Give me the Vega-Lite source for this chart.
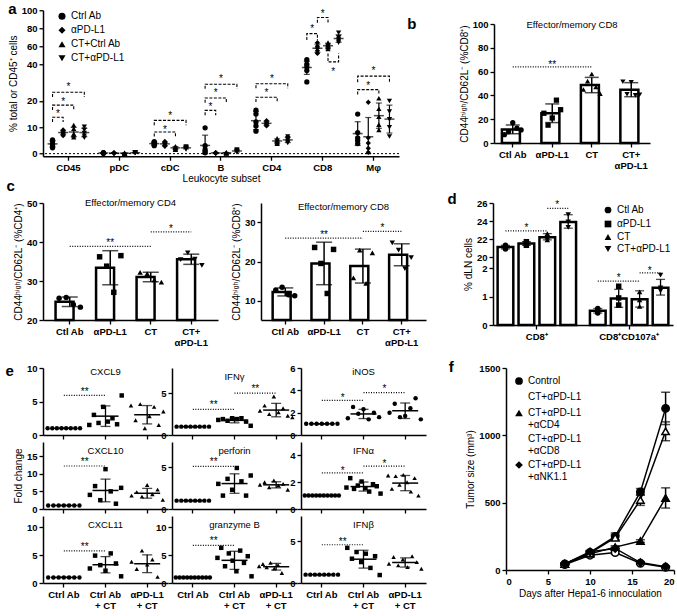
{
"$schema":"https://vega.github.io/schema/vega-lite/v6.json",
"padding":{"left":5,"top":2,"right":2,"bottom":2},
"config":{"font":"Liberation Sans","view":{"stroke":null},
"axis":{"grid":false,"domainColor":"black","domainWidth":1.5,"tickColor":"black","tickWidth":1.3,"tickSize":4,"labelColor":"black","labelFontSize":9.5,"labelFontWeight":"bold","labelOverlap":false,"titleFontSize":10,"titleFontWeight":"normal","titleColor":"black","labelPadding":2,"titlePadding":3},
"axisX":{"labelAngle":0},
"legend":{"labelFontSize":10,"labelColor":"black"},
"title":{"color":"black"},
"text":{"color":"black"}},
"datasets":{
"a_pts":[
{"s":"CD45","k":1,"g":"Ctrl Ab","v":2.2},{"s":"CD45","k":1,"g":"Ctrl Ab","v":3},{"s":"CD45","k":1,"g":"Ctrl Ab","v":3.5},{"s":"CD45","k":1,"g":"Ctrl Ab","v":4.5},{"s":"CD45","k":1,"g":"Ctrl Ab","v":5.2},
{"s":"CD45","k":2,"g":"αPD-L1","v":6.8},{"s":"CD45","k":2,"g":"αPD-L1","v":7.5},{"s":"CD45","k":2,"g":"αPD-L1","v":8},{"s":"CD45","k":2,"g":"αPD-L1","v":8.5},{"s":"CD45","k":2,"g":"αPD-L1","v":9},
{"s":"CD45","k":3,"g":"CT+Ctrl Ab","v":6.2},{"s":"CD45","k":3,"g":"CT+Ctrl Ab","v":7},{"s":"CD45","k":3,"g":"CT+Ctrl Ab","v":7.5},{"s":"CD45","k":3,"g":"CT+Ctrl Ab","v":9.5},{"s":"CD45","k":3,"g":"CT+Ctrl Ab","v":10.8},
{"s":"CD45","k":4,"g":"CT+αPD-L1","v":6},{"s":"CD45","k":4,"g":"CT+αPD-L1","v":6.8},{"s":"CD45","k":4,"g":"CT+αPD-L1","v":7.8},{"s":"CD45","k":4,"g":"CT+αPD-L1","v":9},{"s":"CD45","k":4,"g":"CT+αPD-L1","v":10.2},
{"s":"pDC","k":1,"g":"Ctrl Ab","v":0.1},{"s":"pDC","k":1,"g":"Ctrl Ab","v":0.2},{"s":"pDC","k":1,"g":"Ctrl Ab","v":0.3},{"s":"pDC","k":1,"g":"Ctrl Ab","v":0.2},{"s":"pDC","k":1,"g":"Ctrl Ab","v":0.4},
{"s":"pDC","k":2,"g":"αPD-L1","v":0.1},{"s":"pDC","k":2,"g":"αPD-L1","v":0.2},{"s":"pDC","k":2,"g":"αPD-L1","v":0.3},{"s":"pDC","k":2,"g":"αPD-L1","v":0.3},{"s":"pDC","k":2,"g":"αPD-L1","v":0.2},
{"s":"pDC","k":3,"g":"CT+Ctrl Ab","v":0.05},{"s":"pDC","k":3,"g":"CT+Ctrl Ab","v":0.1},{"s":"pDC","k":3,"g":"CT+Ctrl Ab","v":0.2},{"s":"pDC","k":3,"g":"CT+Ctrl Ab","v":0.2},{"s":"pDC","k":3,"g":"CT+Ctrl Ab","v":0.3},
{"s":"pDC","k":4,"g":"CT+αPD-L1","v":0.2},{"s":"pDC","k":4,"g":"CT+αPD-L1","v":0.3},{"s":"pDC","k":4,"g":"CT+αPD-L1","v":0.4},{"s":"pDC","k":4,"g":"CT+αPD-L1","v":0.5},{"s":"pDC","k":4,"g":"CT+αPD-L1","v":0.3},
{"s":"cDC","k":1,"g":"Ctrl Ab","v":3},{"s":"cDC","k":1,"g":"Ctrl Ab","v":3.5},{"s":"cDC","k":1,"g":"Ctrl Ab","v":4},{"s":"cDC","k":1,"g":"Ctrl Ab","v":4.2},{"s":"cDC","k":1,"g":"Ctrl Ab","v":4.5},
{"s":"cDC","k":2,"g":"αPD-L1","v":2.8},{"s":"cDC","k":2,"g":"αPD-L1","v":3.2},{"s":"cDC","k":2,"g":"αPD-L1","v":3.8},{"s":"cDC","k":2,"g":"αPD-L1","v":4.2},{"s":"cDC","k":2,"g":"αPD-L1","v":4.6},
{"s":"cDC","k":3,"g":"CT+Ctrl Ab","v":1.5},{"s":"cDC","k":3,"g":"CT+Ctrl Ab","v":1.8},{"s":"cDC","k":3,"g":"CT+Ctrl Ab","v":2.2},{"s":"cDC","k":3,"g":"CT+Ctrl Ab","v":2.5},{"s":"cDC","k":3,"g":"CT+Ctrl Ab","v":2.8},
{"s":"cDC","k":4,"g":"CT+αPD-L1","v":1.6},{"s":"cDC","k":4,"g":"CT+αPD-L1","v":1.9},{"s":"cDC","k":4,"g":"CT+αPD-L1","v":2.2},{"s":"cDC","k":4,"g":"CT+αPD-L1","v":2.4},{"s":"cDC","k":4,"g":"CT+αPD-L1","v":2.7},
{"s":"B","k":1,"g":"Ctrl Ab","v":0.3},{"s":"B","k":1,"g":"Ctrl Ab","v":0.8},{"s":"B","k":1,"g":"Ctrl Ab","v":1.5},{"s":"B","k":1,"g":"Ctrl Ab","v":3},{"s":"B","k":1,"g":"Ctrl Ab","v":9.8},
{"s":"B","k":2,"g":"αPD-L1","v":0.1},{"s":"B","k":2,"g":"αPD-L1","v":0.2},{"s":"B","k":2,"g":"αPD-L1","v":0.3},{"s":"B","k":2,"g":"αPD-L1","v":0.4},{"s":"B","k":2,"g":"αPD-L1","v":0.3},
{"s":"B","k":3,"g":"CT+Ctrl Ab","v":0.1},{"s":"B","k":3,"g":"CT+Ctrl Ab","v":0.2},{"s":"B","k":3,"g":"CT+Ctrl Ab","v":0.3},{"s":"B","k":3,"g":"CT+Ctrl Ab","v":0.4},{"s":"B","k":3,"g":"CT+Ctrl Ab","v":0.5},
{"s":"B","k":4,"g":"CT+αPD-L1","v":0.5},{"s":"B","k":4,"g":"CT+αPD-L1","v":0.8},{"s":"B","k":4,"g":"CT+αPD-L1","v":1},{"s":"B","k":4,"g":"CT+αPD-L1","v":1.2},{"s":"B","k":4,"g":"CT+αPD-L1","v":1.5},
{"s":"CD4","k":1,"g":"Ctrl Ab","v":8.5},{"s":"CD4","k":1,"g":"Ctrl Ab","v":10.5},{"s":"CD4","k":1,"g":"Ctrl Ab","v":12},{"s":"CD4","k":1,"g":"Ctrl Ab","v":15},{"s":"CD4","k":1,"g":"Ctrl Ab","v":16.5},
{"s":"CD4","k":2,"g":"αPD-L1","v":10.5},{"s":"CD4","k":2,"g":"αPD-L1","v":11},{"s":"CD4","k":2,"g":"αPD-L1","v":11.5},{"s":"CD4","k":2,"g":"αPD-L1","v":12},{"s":"CD4","k":2,"g":"αPD-L1","v":12.5},
{"s":"CD4","k":3,"g":"CT+Ctrl Ab","v":3.8},{"s":"CD4","k":3,"g":"CT+Ctrl Ab","v":4.2},{"s":"CD4","k":3,"g":"CT+Ctrl Ab","v":4.8},{"s":"CD4","k":3,"g":"CT+Ctrl Ab","v":5.2},{"s":"CD4","k":3,"g":"CT+Ctrl Ab","v":5.8},
{"s":"CD4","k":4,"g":"CT+αPD-L1","v":4},{"s":"CD4","k":4,"g":"CT+αPD-L1","v":4.5},{"s":"CD4","k":4,"g":"CT+αPD-L1","v":5.2},{"s":"CD4","k":4,"g":"CT+αPD-L1","v":5.8},{"s":"CD4","k":4,"g":"CT+αPD-L1","v":6.5},
{"s":"CD8","k":1,"g":"Ctrl Ab","v":27},{"s":"CD8","k":1,"g":"Ctrl Ab","v":33},{"s":"CD8","k":1,"g":"Ctrl Ab","v":37},{"s":"CD8","k":1,"g":"Ctrl Ab","v":40},{"s":"CD8","k":1,"g":"Ctrl Ab","v":45},
{"s":"CD8","k":2,"g":"αPD-L1","v":52},{"s":"CD8","k":2,"g":"αPD-L1","v":55},{"s":"CD8","k":2,"g":"αPD-L1","v":58},{"s":"CD8","k":2,"g":"αPD-L1","v":60},{"s":"CD8","k":2,"g":"αPD-L1","v":64},
{"s":"CD8","k":3,"g":"CT+Ctrl Ab","v":57},{"s":"CD8","k":3,"g":"CT+Ctrl Ab","v":59},{"s":"CD8","k":3,"g":"CT+Ctrl Ab","v":61},{"s":"CD8","k":3,"g":"CT+Ctrl Ab","v":62},{"s":"CD8","k":3,"g":"CT+Ctrl Ab","v":64},
{"s":"CD8","k":4,"g":"CT+αPD-L1","v":64},{"s":"CD8","k":4,"g":"CT+αPD-L1","v":66},{"s":"CD8","k":4,"g":"CT+αPD-L1","v":68},{"s":"CD8","k":4,"g":"CT+αPD-L1","v":70},{"s":"CD8","k":4,"g":"CT+αPD-L1","v":75},
{"s":"Mφ","k":1,"g":"Ctrl Ab","v":3.8},{"s":"Mφ","k":1,"g":"Ctrl Ab","v":5},{"s":"Mφ","k":1,"g":"Ctrl Ab","v":6},{"s":"Mφ","k":1,"g":"Ctrl Ab","v":8},{"s":"Mφ","k":1,"g":"Ctrl Ab","v":15},
{"s":"Mφ","k":2,"g":"αPD-L1","v":0.5},{"s":"Mφ","k":2,"g":"αPD-L1","v":2},{"s":"Mφ","k":2,"g":"αPD-L1","v":4},{"s":"Mφ","k":2,"g":"αPD-L1","v":6},{"s":"Mφ","k":2,"g":"αPD-L1","v":19.5},
{"s":"Mφ","k":3,"g":"CT+Ctrl Ab","v":9},{"s":"Mφ","k":3,"g":"CT+Ctrl Ab","v":11},{"s":"Mφ","k":3,"g":"CT+Ctrl Ab","v":14},{"s":"Mφ","k":3,"g":"CT+Ctrl Ab","v":17},{"s":"Mφ","k":3,"g":"CT+Ctrl Ab","v":21},
{"s":"Mφ","k":4,"g":"CT+αPD-L1","v":6.5},{"s":"Mφ","k":4,"g":"CT+αPD-L1","v":10},{"s":"Mφ","k":4,"g":"CT+αPD-L1","v":13},{"s":"Mφ","k":4,"g":"CT+αPD-L1","v":16},{"s":"Mφ","k":4,"g":"CT+αPD-L1","v":20}
],
"a_sum":[
{"s":"CD45","k":1,"m":3.7,"lo":2.5,"hi":4.9},{"s":"CD45","k":2,"m":8,"lo":7.2,"hi":8.8},{"s":"CD45","k":3,"m":8.2,"lo":6.4,"hi":10},{"s":"CD45","k":4,"m":8,"lo":6.4,"hi":9.6},
{"s":"pDC","k":1,"m":0.24,"lo":0.14,"hi":0.34},{"s":"pDC","k":2,"m":0.22,"lo":0.14,"hi":0.3},{"s":"pDC","k":3,"m":0.17,"lo":0.07,"hi":0.27},{"s":"pDC","k":4,"m":0.34,"lo":0.23,"hi":0.45},
{"s":"cDC","k":1,"m":3.8,"lo":3.2,"hi":4.4},{"s":"cDC","k":2,"m":3.7,"lo":3,"hi":4.4},{"s":"cDC","k":3,"m":2.2,"lo":1.7,"hi":2.7},{"s":"cDC","k":4,"m":2.2,"lo":1.8,"hi":2.6},
{"s":"B","k":1,"m":3.1,"lo":0,"hi":7},{"s":"B","k":2,"m":0.26,"lo":0.16,"hi":0.36},{"s":"B","k":3,"m":0.3,"lo":0.15,"hi":0.45},{"s":"B","k":4,"m":1,"lo":0.6,"hi":1.4},
{"s":"CD4","k":1,"m":12.5,"lo":9.1,"hi":15.9},{"s":"CD4","k":2,"m":11.5,"lo":10.7,"hi":12.3},{"s":"CD4","k":3,"m":4.8,"lo":4,"hi":5.6},{"s":"CD4","k":4,"m":5.2,"lo":4.2,"hi":6.2},
{"s":"CD8","k":1,"m":36.4,"lo":29.6,"hi":43.2},{"s":"CD8","k":2,"m":57.8,"lo":53.2,"hi":62.4},{"s":"CD8","k":3,"m":60.6,"lo":57.9,"hi":63.3},{"s":"CD8","k":4,"m":68.6,"lo":64.4,"hi":72.8},
{"s":"Mφ","k":1,"m":7.6,"lo":3.1,"hi":12.1},{"s":"Mφ","k":2,"m":6.4,"lo":0,"hi":13.7},{"s":"Mφ","k":3,"m":14.4,"lo":9.6,"hi":19.2},{"s":"Mφ","k":4,"m":13.1,"lo":7.8,"hi":18.4}
],
"a_br":[
{"id":1,"s":"CD45","k":1,"y":12,"o":1},{"id":1,"s":"CD45","k":1,"y":13.8,"o":2},{"id":1,"s":"CD45","k":2,"y":13.8,"o":3},{"id":1,"s":"CD45","k":2,"y":12,"o":4},
{"id":2,"s":"CD45","k":1,"y":16.6,"o":1},{"id":2,"s":"CD45","k":1,"y":18.4,"o":2},{"id":2,"s":"CD45","k":3,"y":18.4,"o":3},{"id":2,"s":"CD45","k":3,"y":16.6,"o":4},
{"id":3,"s":"CD45","k":1,"y":21.5,"o":1},{"id":3,"s":"CD45","k":1,"y":23.3,"o":2},{"id":3,"s":"CD45","k":4,"y":23.3,"o":3},{"id":3,"s":"CD45","k":4,"y":21.5,"o":4},
{"id":4,"s":"cDC","k":1,"y":6.5,"o":1},{"id":4,"s":"cDC","k":1,"y":8.2,"o":2},{"id":4,"s":"cDC","k":3,"y":8.2,"o":3},{"id":4,"s":"cDC","k":3,"y":6.5,"o":4},
{"id":5,"s":"cDC","k":1,"y":10.8,"o":1},{"id":5,"s":"cDC","k":1,"y":12.6,"o":2},{"id":5,"s":"cDC","k":4,"y":12.6,"o":3},{"id":5,"s":"cDC","k":4,"y":10.8,"o":4},
{"id":6,"s":"B","k":1,"y":14.6,"o":1},{"id":6,"s":"B","k":1,"y":16.4,"o":2},{"id":6,"s":"B","k":2,"y":16.4,"o":3},{"id":6,"s":"B","k":2,"y":14.6,"o":4},
{"id":7,"s":"B","k":1,"y":19.3,"o":1},{"id":7,"s":"B","k":1,"y":21.1,"o":2},{"id":7,"s":"B","k":3,"y":21.1,"o":3},{"id":7,"s":"B","k":3,"y":19.3,"o":4},
{"id":8,"s":"B","k":1,"y":24.6,"o":1},{"id":8,"s":"B","k":1,"y":26.2,"o":2},{"id":8,"s":"B","k":4,"y":26.2,"o":3},{"id":8,"s":"B","k":4,"y":24.6,"o":4},
{"id":9,"s":"CD4","k":1,"y":19.6,"o":1},{"id":9,"s":"CD4","k":1,"y":21.4,"o":2},{"id":9,"s":"CD4","k":3,"y":21.4,"o":3},{"id":9,"s":"CD4","k":3,"y":19.6,"o":4},
{"id":10,"s":"CD4","k":1,"y":24.8,"o":1},{"id":10,"s":"CD4","k":1,"y":26.4,"o":2},{"id":10,"s":"CD4","k":4,"y":26.4,"o":3},{"id":10,"s":"CD4","k":4,"y":24.8,"o":4},
{"id":11,"s":"CD8","k":1,"y":67,"o":1},{"id":11,"s":"CD8","k":1,"y":74,"o":2},{"id":11,"s":"CD8","k":2,"y":74,"o":3},{"id":11,"s":"CD8","k":2,"y":67,"o":4},
{"id":12,"s":"CD8","k":2,"y":86,"o":1},{"id":12,"s":"CD8","k":2,"y":92,"o":2},{"id":12,"s":"CD8","k":3,"y":92,"o":3},{"id":12,"s":"CD8","k":3,"y":86,"o":4},
{"id":13,"s":"CD8","k":3,"y":52,"o":1},{"id":13,"s":"CD8","k":3,"y":42.6,"o":2},{"id":13,"s":"CD8","k":4,"y":42.6,"o":3},{"id":13,"s":"CD8","k":4,"y":52,"o":4},
{"id":14,"s":"Mφ","k":1,"y":22.4,"o":1},{"id":14,"s":"Mφ","k":1,"y":24.3,"o":2},{"id":14,"s":"Mφ","k":3,"y":24.3,"o":3},{"id":14,"s":"Mφ","k":3,"y":22.4,"o":4},
{"id":15,"s":"Mφ","k":1,"y":26.9,"o":1},{"id":15,"s":"Mφ","k":1,"y":29,"o":2},{"id":15,"s":"Mφ","k":4,"y":29,"o":3},{"id":15,"s":"Mφ","k":4,"y":26.9,"o":4}
],
"a_st":[
{"s":"CD45","k":1.5,"y":16},{"s":"CD45","k":2,"y":20.8},{"s":"CD45","k":2.5,"y":26.3},
{"s":"cDC","k":2,"y":10},{"s":"cDC","k":2.5,"y":15.4},
{"s":"B","k":1.5,"y":18.9},{"s":"B","k":2,"y":24},{"s":"B","k":2.5,"y":29},
{"s":"CD4","k":2,"y":24},{"s":"CD4","k":2.5,"y":29},
{"s":"CD8","k":1.5,"y":83},{"s":"CD8","k":2.5,"y":99.5},{"s":"CD8","k":3.5,"y":35},
{"s":"Mφ","k":2,"y":26.6},{"s":"Mφ","k":2.5,"y":35.8}
],
"b_pts":[
{"g":"Ctl Ab","r":1,"v":7},{"g":"Ctl Ab","r":2,"v":9.5},{"g":"Ctl Ab","r":3,"v":17},{"g":"Ctl Ab","r":4,"v":12.5},{"g":"Ctl Ab","r":5,"v":11},
{"g":"αPD-L1","r":1,"v":25},{"g":"αPD-L1","r":2,"v":15},{"g":"αPD-L1","r":3,"v":21},{"g":"αPD-L1","r":4,"v":36},{"g":"αPD-L1","r":5,"v":28},
{"g":"CT","r":1,"v":45},{"g":"CT","r":2,"v":52},{"g":"CT","r":3,"v":58},{"g":"CT","r":4,"v":47},{"g":"CT","r":5,"v":41.5},
{"g":"CT+αPD-L1","r":1,"v":51.5},{"g":"CT+αPD-L1","r":2,"v":41},{"g":"CT+αPD-L1","r":3,"v":51},{"g":"CT+αPD-L1","r":4,"v":40},{"g":"CT+αPD-L1","r":5,"v":40.5}
],
"b_sig":[{"g1":"Ctl Ab","g2":"CT","y":64,"m":"αPD-L1","ys":68,"t":"**","bp":0}],
"c1_pts":[
{"g":"Ctl Ab","r":1,"v":25.6},{"g":"Ctl Ab","r":2,"v":25.8},{"g":"Ctl Ab","r":3,"v":24},{"g":"Ctl Ab","r":4,"v":23.3},
{"g":"αPD-L1","r":1,"v":36.2},{"g":"αPD-L1","r":2,"v":33.8},{"g":"αPD-L1","r":3,"v":27.1},{"g":"αPD-L1","r":4,"v":36.5},
{"g":"CT","r":1,"v":32.2},{"g":"CT","r":2,"v":31.9},{"g":"CT","r":3,"v":30.3},{"g":"CT","r":4,"v":29.7},
{"g":"CT+αPD-L1","r":1,"v":35.5},{"g":"CT+αPD-L1","r":2,"v":37.2},{"g":"CT+αPD-L1","r":3,"v":35.6},{"g":"CT+αPD-L1","r":4,"v":34}
],
"c1_sig":[{"g1":"Ctl Ab","g2":"CT","y":38.9,"m":"αPD-L1","ys":40.5,"t":"**","bp":0},{"g1":"CT","g2":"CT+αPD-L1","y":42.6,"m":"CT","ys":44.2,"t":"*","bp":1}],
"c2_pts":[
{"g":"Ctl Ab","r":1,"v":12.7},{"g":"Ctl Ab","r":2,"v":13.4},{"g":"Ctl Ab","r":3,"v":11.5},{"g":"Ctl Ab","r":4,"v":11.2},
{"g":"αPD-L1","r":1,"v":23.6},{"g":"αPD-L1","r":2,"v":19.5},{"g":"αPD-L1","r":3,"v":11.8},{"g":"αPD-L1","r":4,"v":23.1},
{"g":"CT","r":1,"v":15.8},{"g":"CT","r":2,"v":22.9},{"g":"CT","r":3,"v":14.4},{"g":"CT","r":4,"v":22.2},
{"g":"CT+αPD-L1","r":1,"v":24.8},{"g":"CT+αPD-L1","r":2,"v":22.9},{"g":"CT+αPD-L1","r":3,"v":18.2},{"g":"CT+αPD-L1","r":4,"v":21}
],
"c2_sig":[{"g1":"Ctl Ab","g2":"CT","y":26,"m":"αPD-L1","ys":27.6,"t":"**","bp":0},{"g1":"CT","g2":"CT+αPD-L1","y":27.7,"m":"CT","ys":29.3,"t":"*","bp":1}],
"d_sum":[
{"s":"CD8⁺","g":"Ctl Ab","m":21.1,"lo":20.9,"hi":21.3},{"s":"CD8⁺","g":"αPD-L1","m":21.5,"lo":21.3,"hi":21.7},{"s":"CD8⁺","g":"CT","m":22.2,"lo":21.9,"hi":22.6},{"s":"CD8⁺","g":"CT+αPD-L1","m":23.9,"lo":23.2,"hi":24.7},
{"s":"CD8⁺CD107a⁺","g":"Ctl Ab","m":0.5,"lo":0.42,"hi":0.58},{"s":"CD8⁺CD107a⁺","g":"αPD-L1","m":0.93,"lo":0.62,"hi":1.25},{"s":"CD8⁺CD107a⁺","g":"CT","m":0.9,"lo":0.63,"hi":1.2},{"s":"CD8⁺CD107a⁺","g":"CT+αPD-L1","m":1.31,"lo":1.05,"hi":1.6}
],
"d_pts":[
{"s":"CD8⁺","g":"Ctl Ab","v":20.9},{"s":"CD8⁺","g":"Ctl Ab","v":21.1},{"s":"CD8⁺","g":"Ctl Ab","v":21.3},
{"s":"CD8⁺","g":"αPD-L1","v":21.3},{"s":"CD8⁺","g":"αPD-L1","v":21.5},{"s":"CD8⁺","g":"αPD-L1","v":21.7},
{"s":"CD8⁺","g":"CT","v":21.9},{"s":"CD8⁺","g":"CT","v":22.2},{"s":"CD8⁺","g":"CT","v":22.6},
{"s":"CD8⁺","g":"CT+αPD-L1","v":23.3},{"s":"CD8⁺","g":"CT+αPD-L1","v":23.9},{"s":"CD8⁺","g":"CT+αPD-L1","v":24.7},
{"s":"CD8⁺CD107a⁺","g":"Ctl Ab","v":0.42},{"s":"CD8⁺CD107a⁺","g":"Ctl Ab","v":0.5},{"s":"CD8⁺CD107a⁺","g":"Ctl Ab","v":0.58},
{"s":"CD8⁺CD107a⁺","g":"αPD-L1","v":0.7},{"s":"CD8⁺CD107a⁺","g":"αPD-L1","v":0.95},{"s":"CD8⁺CD107a⁺","g":"αPD-L1","v":1.36},
{"s":"CD8⁺CD107a⁺","g":"CT","v":0.65},{"s":"CD8⁺CD107a⁺","g":"CT","v":0.88},{"s":"CD8⁺CD107a⁺","g":"CT","v":1.16},
{"s":"CD8⁺CD107a⁺","g":"CT+αPD-L1","v":1.2},{"s":"CD8⁺CD107a⁺","g":"CT+αPD-L1","v":1.3},{"s":"CD8⁺CD107a⁺","g":"CT+αPD-L1","v":1.75}
],
"d_ln":[
{"id":1,"s":"CD8⁺","g":"Ctl Ab","y":22.9},{"id":1,"s":"CD8⁺","g":"CT","y":22.9},
{"id":2,"s":"CD8⁺","g":"CT","y":25.4},{"id":2,"s":"CD8⁺","g":"CT+αPD-L1","y":25.4},
{"id":3,"s":"CD8⁺CD107a⁺","g":"Ctl Ab","y":1.54},{"id":3,"s":"CD8⁺CD107a⁺","g":"CT","y":1.54},
{"id":4,"s":"CD8⁺CD107a⁺","g":"CT","y":1.83},{"id":4,"s":"CD8⁺CD107a⁺","g":"CT+αPD-L1","y":1.83}
],
"d_st":[
{"s":"CD8⁺","g":"αPD-L1","y":23.6,"bp":0},{"s":"CD8⁺","g":"CT","y":26.1,"bp":1},
{"s":"CD8⁺CD107a⁺","g":"αPD-L1","y":1.75,"bp":0},{"s":"CD8⁺CD107a⁺","g":"CT","y":2.05,"bp":1}
],
"e_pts":[
{"gene":"CXCL9","g":"Ctrl Ab","r":1,"v":1},{"gene":"CXCL9","g":"Ctrl Ab","r":2,"v":1},{"gene":"CXCL9","g":"Ctrl Ab","r":3,"v":1},{"gene":"CXCL9","g":"Ctrl Ab","r":4,"v":1},{"gene":"CXCL9","g":"Ctrl Ab","r":5,"v":1},{"gene":"CXCL9","g":"Ctrl Ab","r":6,"v":1},{"gene":"CXCL9","g":"Ctrl Ab","r":7,"v":1},{"gene":"CXCL9","g":"Ctrl Ab","r":8,"v":1},
{"gene":"CXCL9","g":"Ctrl Ab + CT","r":1,"v":1.5},{"gene":"CXCL9","g":"Ctrl Ab + CT","r":2,"v":3},{"gene":"CXCL9","g":"Ctrl Ab + CT","r":3,"v":1.8},{"gene":"CXCL9","g":"Ctrl Ab + CT","r":4,"v":4.2},{"gene":"CXCL9","g":"Ctrl Ab + CT","r":5,"v":2},{"gene":"CXCL9","g":"Ctrl Ab + CT","r":6,"v":2.5},{"gene":"CXCL9","g":"Ctrl Ab + CT","r":7,"v":1.6},{"gene":"CXCL9","g":"Ctrl Ab + CT","r":8,"v":5.9},
{"gene":"CXCL9","g":"αPD-L1 + CT","r":1,"v":4.4},{"gene":"CXCL9","g":"αPD-L1 + CT","r":2,"v":2.2},{"gene":"CXCL9","g":"αPD-L1 + CT","r":3,"v":4.6},{"gene":"CXCL9","g":"αPD-L1 + CT","r":4,"v":1},{"gene":"CXCL9","g":"αPD-L1 + CT","r":5,"v":2.8},{"gene":"CXCL9","g":"αPD-L1 + CT","r":6,"v":4.2},{"gene":"CXCL9","g":"αPD-L1 + CT","r":7,"v":1.5},{"gene":"CXCL9","g":"αPD-L1 + CT","r":8,"v":3.5},
{"gene":"IFNγ","g":"Ctrl Ab","r":1,"v":1},{"gene":"IFNγ","g":"Ctrl Ab","r":2,"v":1},{"gene":"IFNγ","g":"Ctrl Ab","r":3,"v":1},{"gene":"IFNγ","g":"Ctrl Ab","r":4,"v":1},{"gene":"IFNγ","g":"Ctrl Ab","r":5,"v":1},{"gene":"IFNγ","g":"Ctrl Ab","r":6,"v":1},{"gene":"IFNγ","g":"Ctrl Ab","r":7,"v":1},{"gene":"IFNγ","g":"Ctrl Ab","r":8,"v":1},
{"gene":"IFNγ","g":"Ctrl Ab + CT","r":1,"v":1.8},{"gene":"IFNγ","g":"Ctrl Ab + CT","r":2,"v":1.9},{"gene":"IFNγ","g":"Ctrl Ab + CT","r":3,"v":1.7},{"gene":"IFNγ","g":"Ctrl Ab + CT","r":4,"v":2},{"gene":"IFNγ","g":"Ctrl Ab + CT","r":5,"v":1.9},{"gene":"IFNγ","g":"Ctrl Ab + CT","r":6,"v":2},{"gene":"IFNγ","g":"Ctrl Ab + CT","r":7,"v":1.6},{"gene":"IFNγ","g":"Ctrl Ab + CT","r":8,"v":1.1},
{"gene":"IFNγ","g":"αPD-L1 + CT","r":1,"v":2.9},{"gene":"IFNγ","g":"αPD-L1 + CT","r":2,"v":3.5},{"gene":"IFNγ","g":"αPD-L1 + CT","r":3,"v":2.5},{"gene":"IFNγ","g":"αPD-L1 + CT","r":4,"v":4.6},{"gene":"IFNγ","g":"αPD-L1 + CT","r":5,"v":2.7},{"gene":"IFNγ","g":"αPD-L1 + CT","r":6,"v":3.2},{"gene":"IFNγ","g":"αPD-L1 + CT","r":7,"v":2.3},{"gene":"IFNγ","g":"αPD-L1 + CT","r":8,"v":2.1},
{"gene":"iNOS","g":"Ctrl Ab","r":1,"v":1},{"gene":"iNOS","g":"Ctrl Ab","r":2,"v":1},{"gene":"iNOS","g":"Ctrl Ab","r":3,"v":1},{"gene":"iNOS","g":"Ctrl Ab","r":4,"v":1},{"gene":"iNOS","g":"Ctrl Ab","r":5,"v":1},{"gene":"iNOS","g":"Ctrl Ab","r":6,"v":1},{"gene":"iNOS","g":"Ctrl Ab","r":7,"v":1},
{"gene":"iNOS","g":"Ctrl Ab + CT","r":1,"v":1.5},{"gene":"iNOS","g":"Ctrl Ab + CT","r":2,"v":2.5},{"gene":"iNOS","g":"Ctrl Ab + CT","r":3,"v":1.9},{"gene":"iNOS","g":"Ctrl Ab + CT","r":4,"v":2.3},{"gene":"iNOS","g":"Ctrl Ab + CT","r":5,"v":1.4},{"gene":"iNOS","g":"Ctrl Ab + CT","r":6,"v":2},{"gene":"iNOS","g":"Ctrl Ab + CT","r":7,"v":1.6},
{"gene":"iNOS","g":"αPD-L1 + CT","r":1,"v":2},{"gene":"iNOS","g":"αPD-L1 + CT","r":2,"v":2.8},{"gene":"iNOS","g":"αPD-L1 + CT","r":3,"v":1.6},{"gene":"iNOS","g":"αPD-L1 + CT","r":4,"v":1.7},{"gene":"iNOS","g":"αPD-L1 + CT","r":5,"v":2.4},{"gene":"iNOS","g":"αPD-L1 + CT","r":6,"v":3.3},{"gene":"iNOS","g":"αPD-L1 + CT","r":7,"v":1.4},
{"gene":"CXCL10","g":"Ctrl Ab","r":1,"v":1},{"gene":"CXCL10","g":"Ctrl Ab","r":2,"v":1},{"gene":"CXCL10","g":"Ctrl Ab","r":3,"v":1},{"gene":"CXCL10","g":"Ctrl Ab","r":4,"v":1},{"gene":"CXCL10","g":"Ctrl Ab","r":5,"v":1},{"gene":"CXCL10","g":"Ctrl Ab","r":6,"v":1},{"gene":"CXCL10","g":"Ctrl Ab","r":7,"v":1},
{"gene":"CXCL10","g":"Ctrl Ab + CT","r":1,"v":4},{"gene":"CXCL10","g":"Ctrl Ab + CT","r":2,"v":6.5},{"gene":"CXCL10","g":"Ctrl Ab + CT","r":3,"v":2.5},{"gene":"CXCL10","g":"Ctrl Ab + CT","r":4,"v":11.3},{"gene":"CXCL10","g":"Ctrl Ab + CT","r":5,"v":5},{"gene":"CXCL10","g":"Ctrl Ab + CT","r":6,"v":1.5},{"gene":"CXCL10","g":"Ctrl Ab + CT","r":7,"v":6},
{"gene":"CXCL10","g":"αPD-L1 + CT","r":1,"v":3.8},{"gene":"CXCL10","g":"αPD-L1 + CT","r":2,"v":4.8},{"gene":"CXCL10","g":"αPD-L1 + CT","r":3,"v":3.5},{"gene":"CXCL10","g":"αPD-L1 + CT","r":4,"v":6.8},{"gene":"CXCL10","g":"αPD-L1 + CT","r":5,"v":4.2},{"gene":"CXCL10","g":"αPD-L1 + CT","r":6,"v":5.5},{"gene":"CXCL10","g":"αPD-L1 + CT","r":7,"v":2.6},
{"gene":"perforin","g":"Ctrl Ab","r":1,"v":1},{"gene":"perforin","g":"Ctrl Ab","r":2,"v":1},{"gene":"perforin","g":"Ctrl Ab","r":3,"v":1},{"gene":"perforin","g":"Ctrl Ab","r":4,"v":1},{"gene":"perforin","g":"Ctrl Ab","r":5,"v":1},{"gene":"perforin","g":"Ctrl Ab","r":6,"v":1},{"gene":"perforin","g":"Ctrl Ab","r":7,"v":1},{"gene":"perforin","g":"Ctrl Ab","r":8,"v":1},
{"gene":"perforin","g":"Ctrl Ab + CT","r":1,"v":3},{"gene":"perforin","g":"Ctrl Ab + CT","r":2,"v":1.6},{"gene":"perforin","g":"Ctrl Ab + CT","r":3,"v":3.6},{"gene":"perforin","g":"Ctrl Ab + CT","r":4,"v":2.3},{"gene":"perforin","g":"Ctrl Ab + CT","r":5,"v":4.9},{"gene":"perforin","g":"Ctrl Ab + CT","r":6,"v":3.3},{"gene":"perforin","g":"Ctrl Ab + CT","r":7,"v":1.6},{"gene":"perforin","g":"Ctrl Ab + CT","r":8,"v":4},
{"gene":"perforin","g":"αPD-L1 + CT","r":1,"v":2.9},{"gene":"perforin","g":"αPD-L1 + CT","r":2,"v":3.2},{"gene":"perforin","g":"αPD-L1 + CT","r":3,"v":2.6},{"gene":"perforin","g":"αPD-L1 + CT","r":4,"v":3.4},{"gene":"perforin","g":"αPD-L1 + CT","r":5,"v":2.8},{"gene":"perforin","g":"αPD-L1 + CT","r":6,"v":3},{"gene":"perforin","g":"αPD-L1 + CT","r":7,"v":2.3},
{"gene":"IFNα","g":"Ctrl Ab","r":1,"v":1},{"gene":"IFNα","g":"Ctrl Ab","r":2,"v":1},{"gene":"IFNα","g":"Ctrl Ab","r":3,"v":1},{"gene":"IFNα","g":"Ctrl Ab","r":4,"v":1},{"gene":"IFNα","g":"Ctrl Ab","r":5,"v":1},{"gene":"IFNα","g":"Ctrl Ab","r":6,"v":1},{"gene":"IFNα","g":"Ctrl Ab","r":7,"v":1},{"gene":"IFNα","g":"Ctrl Ab","r":8,"v":1},{"gene":"IFNα","g":"Ctrl Ab","r":9,"v":1},{"gene":"IFNα","g":"Ctrl Ab","r":10,"v":1},
{"gene":"IFNα","g":"Ctrl Ab + CT","r":1,"v":1.6},{"gene":"IFNα","g":"Ctrl Ab + CT","r":2,"v":2.3},{"gene":"IFNα","g":"Ctrl Ab + CT","r":3,"v":1.5},{"gene":"IFNα","g":"Ctrl Ab + CT","r":4,"v":1.75},{"gene":"IFNα","g":"Ctrl Ab + CT","r":5,"v":2.05},{"gene":"IFNα","g":"Ctrl Ab + CT","r":6,"v":1.55},{"gene":"IFNα","g":"Ctrl Ab + CT","r":7,"v":1.3},{"gene":"IFNα","g":"Ctrl Ab + CT","r":8,"v":1.85},{"gene":"IFNα","g":"Ctrl Ab + CT","r":9,"v":1.7},{"gene":"IFNα","g":"Ctrl Ab + CT","r":10,"v":1.15},
{"gene":"IFNα","g":"αPD-L1 + CT","r":1,"v":2.5},{"gene":"IFNα","g":"αPD-L1 + CT","r":2,"v":1.5},{"gene":"IFNα","g":"αPD-L1 + CT","r":3,"v":2.45},{"gene":"IFNα","g":"αPD-L1 + CT","r":4,"v":1.8},{"gene":"IFNα","g":"αPD-L1 + CT","r":5,"v":2.55},{"gene":"IFNα","g":"αPD-L1 + CT","r":6,"v":2},{"gene":"IFNα","g":"αPD-L1 + CT","r":7,"v":1.3},{"gene":"IFNα","g":"αPD-L1 + CT","r":8,"v":2.3},{"gene":"IFNα","g":"αPD-L1 + CT","r":9,"v":1},
{"gene":"CXCL11","g":"Ctrl Ab","r":1,"v":1},{"gene":"CXCL11","g":"Ctrl Ab","r":2,"v":1},{"gene":"CXCL11","g":"Ctrl Ab","r":3,"v":1},{"gene":"CXCL11","g":"Ctrl Ab","r":4,"v":1},{"gene":"CXCL11","g":"Ctrl Ab","r":5,"v":1},{"gene":"CXCL11","g":"Ctrl Ab","r":6,"v":1},{"gene":"CXCL11","g":"Ctrl Ab","r":7,"v":1},
{"gene":"CXCL11","g":"Ctrl Ab + CT","r":1,"v":2.6},{"gene":"CXCL11","g":"Ctrl Ab + CT","r":2,"v":4.9},{"gene":"CXCL11","g":"Ctrl Ab + CT","r":3,"v":3.2},{"gene":"CXCL11","g":"Ctrl Ab + CT","r":4,"v":2.2},{"gene":"CXCL11","g":"Ctrl Ab + CT","r":5,"v":5.3},{"gene":"CXCL11","g":"Ctrl Ab + CT","r":6,"v":3.5},{"gene":"CXCL11","g":"Ctrl Ab + CT","r":7,"v":1.2},
{"gene":"CXCL11","g":"αPD-L1 + CT","r":1,"v":3.8},{"gene":"CXCL11","g":"αPD-L1 + CT","r":2,"v":2.5},{"gene":"CXCL11","g":"αPD-L1 + CT","r":3,"v":5.8},{"gene":"CXCL11","g":"αPD-L1 + CT","r":4,"v":3.3},{"gene":"CXCL11","g":"αPD-L1 + CT","r":5,"v":4.2},{"gene":"CXCL11","g":"αPD-L1 + CT","r":6,"v":1.1},
{"gene":"granzyme B","g":"Ctrl Ab","r":1,"v":1},{"gene":"granzyme B","g":"Ctrl Ab","r":2,"v":1},{"gene":"granzyme B","g":"Ctrl Ab","r":3,"v":1},{"gene":"granzyme B","g":"Ctrl Ab","r":4,"v":1},{"gene":"granzyme B","g":"Ctrl Ab","r":5,"v":1},{"gene":"granzyme B","g":"Ctrl Ab","r":6,"v":1},{"gene":"granzyme B","g":"Ctrl Ab","r":7,"v":1},{"gene":"granzyme B","g":"Ctrl Ab","r":8,"v":1},{"gene":"granzyme B","g":"Ctrl Ab","r":9,"v":1},{"gene":"granzyme B","g":"Ctrl Ab","r":10,"v":1},
{"gene":"granzyme B","g":"Ctrl Ab + CT","r":1,"v":4.5},{"gene":"granzyme B","g":"Ctrl Ab + CT","r":2,"v":6.3},{"gene":"granzyme B","g":"Ctrl Ab + CT","r":3,"v":3},{"gene":"granzyme B","g":"Ctrl Ab + CT","r":4,"v":5.3},{"gene":"granzyme B","g":"Ctrl Ab + CT","r":5,"v":4},{"gene":"granzyme B","g":"Ctrl Ab + CT","r":6,"v":2.1},{"gene":"granzyme B","g":"Ctrl Ab + CT","r":7,"v":5.8},{"gene":"granzyme B","g":"Ctrl Ab + CT","r":8,"v":3.6},{"gene":"granzyme B","g":"Ctrl Ab + CT","r":9,"v":4.8},{"gene":"granzyme B","g":"Ctrl Ab + CT","r":10,"v":1.2},
{"gene":"granzyme B","g":"αPD-L1 + CT","r":1,"v":3},{"gene":"granzyme B","g":"αPD-L1 + CT","r":2,"v":3.4},{"gene":"granzyme B","g":"αPD-L1 + CT","r":3,"v":2.8},{"gene":"granzyme B","g":"αPD-L1 + CT","r":4,"v":3.6},{"gene":"granzyme B","g":"αPD-L1 + CT","r":5,"v":2.6},{"gene":"granzyme B","g":"αPD-L1 + CT","r":6,"v":3.2},{"gene":"granzyme B","g":"αPD-L1 + CT","r":7,"v":1.8},
{"gene":"IFNβ","g":"Ctrl Ab","r":1,"v":1},{"gene":"IFNβ","g":"Ctrl Ab","r":2,"v":1},{"gene":"IFNβ","g":"Ctrl Ab","r":3,"v":1},{"gene":"IFNβ","g":"Ctrl Ab","r":4,"v":1},{"gene":"IFNβ","g":"Ctrl Ab","r":5,"v":1},{"gene":"IFNβ","g":"Ctrl Ab","r":6,"v":1},{"gene":"IFNβ","g":"Ctrl Ab","r":7,"v":1},{"gene":"IFNβ","g":"Ctrl Ab","r":8,"v":1},
{"gene":"IFNβ","g":"Ctrl Ab + CT","r":1,"v":4.2},{"gene":"IFNβ","g":"Ctrl Ab + CT","r":2,"v":2.9},{"gene":"IFNβ","g":"Ctrl Ab + CT","r":3,"v":3.7},{"gene":"IFNβ","g":"Ctrl Ab + CT","r":4,"v":2.5},{"gene":"IFNβ","g":"Ctrl Ab + CT","r":5,"v":3.5},{"gene":"IFNβ","g":"Ctrl Ab + CT","r":6,"v":1.8},{"gene":"IFNβ","g":"Ctrl Ab + CT","r":7,"v":3.2},{"gene":"IFNβ","g":"Ctrl Ab + CT","r":8,"v":0.95},
{"gene":"IFNβ","g":"αPD-L1 + CT","r":1,"v":2.3},{"gene":"IFNβ","g":"αPD-L1 + CT","r":2,"v":3.1},{"gene":"IFNβ","g":"αPD-L1 + CT","r":3,"v":2.1},{"gene":"IFNβ","g":"αPD-L1 + CT","r":4,"v":2.8},{"gene":"IFNβ","g":"αPD-L1 + CT","r":5,"v":1.9},{"gene":"IFNβ","g":"αPD-L1 + CT","r":6,"v":3.2},{"gene":"IFNβ","g":"αPD-L1 + CT","r":7,"v":2.5},{"gene":"IFNβ","g":"αPD-L1 + CT","r":8,"v":1.7}
],
"e_sig":[
{"gene":"CXCL9","g1":"Ctrl Ab","g2":"Ctrl Ab + CT","y":5.9,"ys":6.9,"t":"**"},
{"gene":"IFNγ","g1":"Ctrl Ab","g2":"Ctrl Ab + CT","y":3.06,"ys":3.9,"t":"**"},
{"gene":"IFNγ","g1":"Ctrl Ab + CT","g2":"αPD-L1 + CT","y":5,"ys":5.8,"t":"**"},
{"gene":"iNOS","g1":"Ctrl Ab","g2":"Ctrl Ab + CT","y":3.1,"ys":3.6,"t":"*"},
{"gene":"iNOS","g1":"Ctrl Ab + CT","g2":"αPD-L1 + CT","y":3.8,"ys":4.35,"t":"*"},
{"gene":"CXCL10","g1":"Ctrl Ab","g2":"Ctrl Ab + CT","y":12.2,"ys":14.3,"t":"**"},
{"gene":"perforin","g1":"Ctrl Ab","g2":"Ctrl Ab + CT","y":5.08,"ys":6,"t":"**"},
{"gene":"IFNα","g1":"Ctrl Ab","g2":"Ctrl Ab + CT","y":2.7,"ys":3.05,"t":"*"},
{"gene":"IFNα","g1":"Ctrl Ab + CT","g2":"αPD-L1 + CT","y":3.2,"ys":3.6,"t":"*"},
{"gene":"CXCL11","g1":"Ctrl Ab","g2":"Ctrl Ab + CT","y":5.75,"ys":7,"t":"**"},
{"gene":"granzyme B","g1":"Ctrl Ab","g2":"Ctrl Ab + CT","y":6.75,"ys":8,"t":"**"},
{"gene":"IFNβ","g1":"Ctrl Ab","g2":"Ctrl Ab + CT","y":4.57,"ys":5.3,"t":"**"}
],
"f_data":[
{"g":"Control","d":7,"m":45,"lo":40,"hi":50},{"g":"Control","d":10,"m":130,"lo":118,"hi":142},{"g":"Control","d":13,"m":250,"lo":225,"hi":275},{"g":"Control","d":16,"m":580,"lo":555,"hi":605},{"g":"Control","d":19,"m":1200,"lo":1080,"hi":1320},
{"g":"CT+αPD-L1","d":7,"m":40,"lo":36,"hi":44},{"g":"CT+αPD-L1","d":10,"m":110,"lo":100,"hi":120},{"g":"CT+αPD-L1","d":13,"m":130,"lo":118,"hi":142},{"g":"CT+αPD-L1","d":16,"m":50,"lo":42,"hi":58},{"g":"CT+αPD-L1","d":19,"m":20,"lo":15,"hi":25},
{"g":"CT+αPD-L1+αCD4","d":7,"m":45,"lo":40,"hi":50},{"g":"CT+αPD-L1+αCD4","d":10,"m":120,"lo":110,"hi":130},{"g":"CT+αPD-L1+αCD4","d":13,"m":170,"lo":160,"hi":180},{"g":"CT+αPD-L1+αCD4","d":16,"m":215,"lo":205,"hi":225},{"g":"CT+αPD-L1+αCD4","d":19,"m":535,"lo":460,"hi":610},
{"g":"CT+αPD-L1+αCD8","d":7,"m":45,"lo":40,"hi":50},{"g":"CT+αPD-L1+αCD8","d":10,"m":125,"lo":115,"hi":135},{"g":"CT+αPD-L1+αCD8","d":13,"m":240,"lo":220,"hi":260},{"g":"CT+αPD-L1+αCD8","d":16,"m":520,"lo":480,"hi":560},{"g":"CT+αPD-L1+αCD8","d":19,"m":1030,"lo":960,"hi":1100},
{"g":"CT+αPD-L1+αNK1.1","d":7,"m":45,"lo":40,"hi":50},{"g":"CT+αPD-L1+αNK1.1","d":10,"m":135,"lo":125,"hi":145},{"g":"CT+αPD-L1+αNK1.1","d":13,"m":160,"lo":150,"hi":170},{"g":"CT+αPD-L1+αNK1.1","d":16,"m":55,"lo":48,"hi":62},{"g":"CT+αPD-L1+αNK1.1","d":19,"m":25,"lo":20,"hi":30}
]
},
"resolve":{"scale":{"shape":"independent","fill":"independent","xOffset":"independent"},"legend":{"shape":"independent","fill":"independent"}},
"spacing":6,
"vconcat":[
{"spacing":-6,"resolve":{"scale":{"shape":"independent","fill":"independent","xOffset":"independent"},"legend":{"shape":"independent","fill":"independent"}},
 "vconcat":[
 {"spacing":7,"center":true,"resolve":{"scale":{"shape":"independent","fill":"independent","xOffset":"independent"},"legend":{"shape":"independent","fill":"independent"}},
  "hconcat":[
  {"title":{"text":"a","anchor":"start","frame":"bounds","fontSize":15,"fontWeight":"bold","offset":-12},
   "width":356,"height":146,
   "layer":[
    {"data":{"values":[{}]},"mark":{"type":"rule","strokeDash":[2,2],"strokeWidth":1,"color":"black"},"encoding":{"y":{"datum":0,"type":"quantitative"}}},
    {"data":{"name":"a_pts"},"mark":{"type":"point","filled":true,"opacity":1,"size":28,"color":"black"},
     "encoding":{"x":{"field":"s","type":"nominal","title":"Leukocyte subset","scale":{"domain":["CD45","pDC","cDC","B","CD4","CD8","Mφ"],"paddingInner":0,"paddingOuter":0},"axis":{"titlePadding":2}},
      "xOffset":{"field":"k","type":"quantitative","scale":{"domain":[0.1,4.9]}},
      "y":{"field":"v","type":"quantitative","title":"% total or CD45⁺ cells","scale":{"domain":[-1,25,30,100],"range":[146,77.5,63,0],"nice":false,"zero":false},"axis":{"values":[0,10,20,40,60,80,100],"tickCount":20,"format":"d","labelOverlap":false}},
      "shape":{"field":"g","type":"nominal","scale":{"domain":["Ctrl Ab","αPD-L1","CT+Ctrl Ab","CT+αPD-L1"],"range":["circle","diamond","triangle-up","triangle-down"]},"legend":{"title":null,"orient":"none","legendX":14,"legendY":1,"symbolFillColor":"black","symbolStrokeColor":"black","symbolSize":50,"rowPadding":0,"labelFontSize":10}}}},
    {"data":{"name":"a_sum"},"mark":{"type":"rule","strokeWidth":1.2,"color":"black"},
     "encoding":{"x":{"field":"s","type":"nominal","title":"Leukocyte subset"},"xOffset":{"field":"k","type":"quantitative"},"y":{"field":"lo","type":"quantitative","title":"% total or CD45⁺ cells"},"y2":{"field":"hi"}}},
    {"data":{"name":"a_sum"},"mark":{"type":"tick","color":"black","thickness":1.2,"size":6},
     "encoding":{"x":{"field":"s","type":"nominal","title":"Leukocyte subset"},"xOffset":{"field":"k","type":"quantitative"},"y":{"field":"lo","type":"quantitative","title":"% total or CD45⁺ cells"}}},
    {"data":{"name":"a_sum"},"mark":{"type":"tick","color":"black","thickness":1.2,"size":6},
     "encoding":{"x":{"field":"s","type":"nominal","title":"Leukocyte subset"},"xOffset":{"field":"k","type":"quantitative"},"y":{"field":"hi","type":"quantitative","title":"% total or CD45⁺ cells"}}},
    {"data":{"name":"a_sum"},"mark":{"type":"tick","color":"black","thickness":1.5,"size":10},
     "encoding":{"x":{"field":"s","type":"nominal","title":"Leukocyte subset"},"xOffset":{"field":"k","type":"quantitative"},"y":{"field":"m","type":"quantitative","title":"% total or CD45⁺ cells"}}},
    {"data":{"name":"a_br"},"mark":{"type":"line","color":"black","strokeWidth":1.1,"strokeDash":[3,1.5]},
     "encoding":{"x":{"field":"s","type":"nominal","title":"Leukocyte subset"},"xOffset":{"field":"k","type":"quantitative"},"y":{"field":"y","type":"quantitative","title":"% total or CD45⁺ cells"},"detail":{"field":"id"},"order":{"field":"o"}}},
    {"data":{"name":"a_st"},"mark":{"type":"text","fontSize":10,"dy":3,"color":"black","fill":"black"},
     "encoding":{"x":{"field":"s","type":"nominal","title":"Leukocyte subset"},"xOffset":{"field":"k","type":"quantitative"},"y":{"field":"y","type":"quantitative","title":"% total or CD45⁺ cells"},"text":{"value":"*"}}}
   ]},
  {"title":{"text":"b","anchor":"start","frame":"bounds","fontSize":15,"fontWeight":"bold","dx":-52,"offset":-21},
   "resolve":{"scale":{"shape":"independent","fill":"independent","xOffset":"independent"},"legend":{"shape":"independent","fill":"independent"}},
   "vconcat":[{
    "title":{"text":["\u00a0","Effector/memory CD8"],"fontSize":9.5,"fontWeight":"normal","lineHeight":9,"offset":-10},
    "width":156,"height":119,
    "data":{"name":"b_pts"},
    "encoding":{"x":{"field":"g","type":"nominal","title":null,"scale":{"domain":["Ctl Ab","αPD-L1","CT","CT+αPD-L1"],"paddingInner":0.45,"paddingOuter":0.2},"axis":{"labelExpr":"split(replace(datum.label,'CT+','CT+|'),'|')"}}},
    "layer":[
     {"mark":{"type":"bar","fill":"white","stroke":"black","strokeWidth":2.5},"encoding":{"y":{"aggregate":"mean","field":"v","type":"quantitative","title":"CD44ʰⁱᵍʰ/CD62L⁻ (%CD8⁺)","scale":{"domain":[0,100]},"axis":{"values":[0,20,40,60,80,100],"tickCount":20,"format":"d","labelOverlap":false}}}},
     {"mark":{"type":"point","filled":true,"size":28,"color":"black","opacity":1},"encoding":{"xOffset":{"field":"r","type":"ordinal","scale":{"paddingOuter":0.6}},"y":{"field":"v","type":"quantitative","title":"CD44ʰⁱᵍʰ/CD62L⁻ (%CD8⁺)"},"shape":{"field":"g","type":"nominal","scale":{"domain":["Ctl Ab","αPD-L1","CT","CT+αPD-L1"],"range":["circle","square","triangle-up","triangle-down"]},"legend":null}}},
     {"mark":{"type":"errorbar","extent":"stdev","ticks":{"size":14},"color":"black","thickness":1.5},"encoding":{"y":{"field":"v","type":"quantitative","title":"CD44ʰⁱᵍʰ/CD62L⁻ (%CD8⁺)"}}},
     {"data":{"name":"b_sig"},"mark":{"type":"rule","strokeDash":[1,1.5],"strokeWidth":1.2,"color":"black"},"encoding":{"x":{"field":"g1","type":"nominal","title":null},"x2":{"field":"g2"},"y":{"field":"y","type":"quantitative","title":"CD44ʰⁱᵍʰ/CD62L⁻ (%CD8⁺)"}}},
     {"data":{"name":"b_sig"},"mark":{"type":"text","fontSize":10,"dy":3,"color":"black","fill":"black"},"encoding":{"x":{"field":"m","type":"nominal","title":null},"y":{"field":"ys","type":"quantitative","title":"CD44ʰⁱᵍʰ/CD62L⁻ (%CD8⁺)"},"text":{"field":"t"}}}
    ]}]}
 ]},
 {"spacing":21,"resolve":{"scale":{"shape":"independent","fill":"independent","xOffset":"independent"},"legend":{"shape":"independent","fill":"independent"}},
  "hconcat":[
  {"title":{"text":"c","anchor":"start","frame":"bounds","fontSize":15,"fontWeight":"bold","dx":-7,"offset":4},
   "spacing":13,
   "resolve":{"scale":{"shape":"independent","fill":"independent","xOffset":"independent"},"legend":{"shape":"independent","fill":"independent"}},
   "hconcat":[
    {"title":{"text":"Effector/memory CD4","fontSize":9.5,"fontWeight":"normal","offset":-9},
     "width":175,"height":117,
     "data":{"name":"c1_pts"},
     "encoding":{"x":{"field":"g","type":"nominal","title":null,"scale":{"domain":["Ctl Ab","αPD-L1","CT","CT+αPD-L1"],"paddingInner":0.3,"paddingOuter":0.31},"axis":{"labelExpr":"split(replace(datum.label,'CT+','CT+|'),'|')"}}},
     "layer":[
      {"mark":{"type":"bar","fill":"white","stroke":"black","strokeWidth":2.5},"encoding":{"y":{"aggregate":"mean","field":"v","type":"quantitative","title":"CD44ʰⁱᵍʰ/CD62L⁻ (%CD4⁺)","scale":{"domain":[20,50],"zero":false,"nice":false},"axis":{"values":[20,30,40,50],"tickCount":20,"format":"d","labelOverlap":false}},"y2":{"datum":20}}},
      {"mark":{"type":"point","filled":true,"size":30,"color":"black","opacity":1},"encoding":{"xOffset":{"field":"r","type":"ordinal","scale":{"paddingOuter":0.5}},"y":{"field":"v","type":"quantitative","title":"CD44ʰⁱᵍʰ/CD62L⁻ (%CD4⁺)"},"shape":{"field":"g","type":"nominal","scale":{"domain":["Ctl Ab","αPD-L1","CT","CT+αPD-L1"],"range":["circle","square","triangle-up","triangle-down"]},"legend":null}}},
      {"mark":{"type":"errorbar","extent":"stdev","ticks":{"size":16},"color":"black","thickness":1.5},"encoding":{"y":{"field":"v","type":"quantitative","title":"CD44ʰⁱᵍʰ/CD62L⁻ (%CD4⁺)"}}},
      {"data":{"name":"c1_sig"},"mark":{"type":"rule","strokeDash":[1,1.5],"strokeWidth":1.2,"color":"black"},"encoding":{"x":{"field":"g1","type":"nominal","title":null},"x2":{"field":"g2"},"y":{"field":"y","type":"quantitative","title":"CD44ʰⁱᵍʰ/CD62L⁻ (%CD4⁺)"}}},
      {"data":{"name":"c1_sig"},"transform":[{"filter":"datum.bp==0"}],"mark":{"type":"text","fontSize":10,"dy":3,"color":"black","fill":"black"},"encoding":{"x":{"field":"m","type":"nominal","title":null},"y":{"field":"ys","type":"quantitative","title":"CD44ʰⁱᵍʰ/CD62L⁻ (%CD4⁺)"},"text":{"field":"t"}}},
      {"data":{"name":"c1_sig"},"transform":[{"filter":"datum.bp==1"}],"mark":{"type":"text","fontSize":10,"dy":3,"color":"black","fill":"black"},"encoding":{"x":{"field":"m","type":"nominal","title":null,"bandPosition":1.21},"y":{"field":"ys","type":"quantitative","title":"CD44ʰⁱᵍʰ/CD62L⁻ (%CD4⁺)"},"text":{"field":"t"}}}
     ]},
    {"title":{"text":"Effector/memory CD8","fontSize":9.5,"fontWeight":"normal","offset":-9},
     "width":165,"height":117,
     "data":{"name":"c2_pts"},
     "encoding":{"x":{"field":"g","type":"nominal","title":null,"scale":{"domain":["Ctl Ab","αPD-L1","CT","CT+αPD-L1"],"paddingInner":0.35,"paddingOuter":0.3},"axis":{"labelExpr":"split(replace(datum.label,'CT+','CT+|'),'|')"}}},
     "layer":[
      {"mark":{"type":"bar","fill":"white","stroke":"black","strokeWidth":2.5},"encoding":{"y":{"aggregate":"mean","field":"v","type":"quantitative","title":"CD44ʰⁱᵍʰ/CD62L⁻ (%CD8⁺)","scale":{"domain":[5,35],"zero":false,"nice":false},"axis":{"values":[10,20,30],"tickCount":20,"format":"d","labelOverlap":false}},"y2":{"datum":5}}},
      {"mark":{"type":"point","filled":true,"size":30,"color":"black","opacity":1},"encoding":{"xOffset":{"field":"r","type":"ordinal","scale":{"paddingOuter":0.5}},"y":{"field":"v","type":"quantitative","title":"CD44ʰⁱᵍʰ/CD62L⁻ (%CD8⁺)"},"shape":{"field":"g","type":"nominal","scale":{"domain":["Ctl Ab","αPD-L1","CT","CT+αPD-L1"],"range":["circle","square","triangle-up","triangle-down"]},"legend":null}}},
      {"mark":{"type":"errorbar","extent":"stdev","ticks":{"size":16},"color":"black","thickness":1.5},"encoding":{"y":{"field":"v","type":"quantitative","title":"CD44ʰⁱᵍʰ/CD62L⁻ (%CD8⁺)"}}},
      {"data":{"name":"c2_sig"},"mark":{"type":"rule","strokeDash":[1,1.5],"strokeWidth":1.2,"color":"black"},"encoding":{"x":{"field":"g1","type":"nominal","title":null},"x2":{"field":"g2"},"y":{"field":"y","type":"quantitative","title":"CD44ʰⁱᵍʰ/CD62L⁻ (%CD8⁺)"}}},
      {"data":{"name":"c2_sig"},"transform":[{"filter":"datum.bp==0"}],"mark":{"type":"text","fontSize":10,"dy":3,"color":"black","fill":"black"},"encoding":{"x":{"field":"m","type":"nominal","title":null},"y":{"field":"ys","type":"quantitative","title":"CD44ʰⁱᵍʰ/CD62L⁻ (%CD8⁺)"},"text":{"field":"t"}}},
      {"data":{"name":"c2_sig"},"transform":[{"filter":"datum.bp==1"}],"mark":{"type":"text","fontSize":10,"dy":3,"color":"black","fill":"black"},"encoding":{"x":{"field":"m","type":"nominal","title":null,"bandPosition":1.27},"y":{"field":"ys","type":"quantitative","title":"CD44ʰⁱᵍʰ/CD62L⁻ (%CD8⁺)"},"text":{"field":"t"}}}
     ]}
   ]},
  {"title":{"text":"d","anchor":"start","frame":"bounds","fontSize":15,"fontWeight":"bold","dx":-16,"offset":-9},
   "width":180,"height":122,
   "encoding":{"x":{"field":"s","type":"nominal","title":null,"scale":{"domain":["CD8⁺","CD8⁺CD107a⁺"],"paddingInner":0.15,"paddingOuter":0.05}},
     "xOffset":{"field":"g","type":"nominal","scale":{"domain":["Ctl Ab","αPD-L1","CT","CT+αPD-L1"],"paddingInner":0.25}}},
   "layer":[
    {"data":{"name":"d_sum"},"mark":{"type":"bar","fill":"white","stroke":"black","strokeWidth":2.5},"encoding":{"y":{"field":"m","type":"quantitative","title":"% dLN cells","scale":{"domain":[0,2,20,26],"range":[122,65,54,0],"nice":false,"zero":false},"axis":{"values":[0,1,2,20,22,24,26],"tickCount":20,"format":"d","labelOverlap":false}}}},
    {"data":{"name":"d_pts"},"mark":{"type":"point","filled":true,"size":30,"color":"black","opacity":1},"encoding":{"y":{"field":"v","type":"quantitative","title":"% dLN cells"},"shape":{"field":"g","type":"nominal","scale":{"domain":["Ctl Ab","αPD-L1","CT","CT+αPD-L1"],"range":["circle","square","triangle-up","triangle-down"]},"legend":{"title":null,"orient":"top-right","offset":2,"symbolFillColor":"black","symbolStrokeColor":"black","symbolSize":45,"rowPadding":0,"labelFontSize":10}}}},
    {"data":{"name":"d_sum"},"mark":{"type":"rule","color":"black","strokeWidth":1.3},"encoding":{"y":{"field":"lo","type":"quantitative","title":"% dLN cells"},"y2":{"field":"hi"}}},
    {"data":{"name":"d_sum"},"mark":{"type":"tick","color":"black","thickness":1.3,"size":9},"encoding":{"y":{"field":"lo","type":"quantitative","title":"% dLN cells"}}},
    {"data":{"name":"d_sum"},"mark":{"type":"tick","color":"black","thickness":1.3,"size":9},"encoding":{"y":{"field":"hi","type":"quantitative","title":"% dLN cells"}}},
    {"data":{"name":"d_ln"},"mark":{"type":"line","color":"black","strokeWidth":1.2,"strokeDash":[1,1.5]},"encoding":{"y":{"field":"y","type":"quantitative","title":"% dLN cells"},"detail":{"field":"id"}}},
    {"data":{"name":"d_st"},"transform":[{"filter":"datum.bp==0"}],"mark":{"type":"text","fontSize":10,"dy":3,"color":"black","fill":"black"},"encoding":{"y":{"field":"y","type":"quantitative","title":"% dLN cells"},"text":{"value":"*"}}},
    {"data":{"name":"d_st"},"transform":[{"filter":"datum.bp==1"}],"mark":{"type":"text","fontSize":10,"dy":3,"dx":10,"color":"black","fill":"black"},"encoding":{"y":{"field":"y","type":"quantitative","title":"% dLN cells"},"text":{"value":"*"}}}
   ]}
 ]}
]},
{"spacing":22,"resolve":{"scale":{"shape":"independent","fill":"independent","xOffset":"independent"},"legend":{"shape":"independent","fill":"independent"}},
 "hconcat":[
 {"title":{"text":"e","anchor":"start","frame":"bounds","fontSize":15,"fontWeight":"bold","dx":-8,"offset":-16},
  "columns":3,"bounds":"flush","spacing":{"row":7,"column":4},
  "resolve":{"scale":{"shape":"independent","fill":"independent","xOffset":"independent"},"legend":{"shape":"independent","fill":"independent"}},
  "concat":[
   {"width":125,"height":67,"title":{"text":"CXCL9","fontSize":9.5,"fontWeight":"normal","offset":-13},"data":{"name":"e_pts"},"transform":[{"filter":"datum.gene==='CXCL9'"}],
    "encoding":{"x":{"field":"g","type":"nominal","title":null,"scale":{"domain":["Ctrl Ab","Ctrl Ab + CT","αPD-L1 + CT"],"paddingInner":0,"paddingOuter":0},"axis":{"labels":false}}},
    "layer":[
     {"mark":{"type":"point","filled":true,"size":20,"color":"black","opacity":1},"encoding":{"xOffset":{"field":"r","type":"ordinal","scale":{"paddingOuter":2}},"y":{"field":"v","type":"quantitative","title":null,"scale":{"domain":[0,10],"nice":false},"axis":{"values":[0,5,10],"tickCount":20,"format":"d"}},"shape":{"field":"g","type":"nominal","scale":{"domain":["Ctrl Ab","Ctrl Ab + CT","αPD-L1 + CT"],"range":["circle","square","triangle-up"]},"legend":null}}},
     {"mark":{"type":"errorbar","extent":"stdev","ticks":{"size":10},"color":"black","thickness":1.3},"encoding":{"y":{"field":"v","type":"quantitative","title":null}}},
     {"mark":{"type":"tick","color":"black","thickness":1.5,"size":26},"encoding":{"y":{"aggregate":"mean","field":"v","type":"quantitative","title":null}}},
     {"data":{"name":"e_sig"},"transform":[{"filter":"datum.gene==='CXCL9'"}],"mark":{"type":"rule","strokeDash":[1,1.5],"strokeWidth":1.2,"color":"black"},"encoding":{"x":{"field":"g1","type":"nominal","title":null},"x2":{"field":"g2"},"y":{"field":"y","type":"quantitative","title":null}}},
     {"data":{"name":"e_sig"},"transform":[{"filter":"datum.gene==='CXCL9'"}],"mark":{"type":"text","fontSize":10,"dy":3,"color":"black","fill":"black"},"encoding":{"x":{"field":"g1","type":"nominal","title":null,"bandPosition":1},"y":{"field":"ys","type":"quantitative","title":null},"text":{"field":"t"}}}
    ]},
   {"width":125,"height":67,"title":{"text":"IFNγ","fontSize":9.5,"fontWeight":"normal","offset":-13},"data":{"name":"e_pts"},"transform":[{"filter":"datum.gene==='IFNγ'"}],
    "encoding":{"x":{"field":"g","type":"nominal","title":null,"scale":{"domain":["Ctrl Ab","Ctrl Ab + CT","αPD-L1 + CT"],"paddingInner":0,"paddingOuter":0},"axis":{"labels":false}}},
    "layer":[
     {"mark":{"type":"point","filled":true,"size":20,"color":"black","opacity":1},"encoding":{"xOffset":{"field":"r","type":"ordinal","scale":{"paddingOuter":2}},"y":{"field":"v","type":"quantitative","title":null,"scale":{"domain":[0,8],"nice":false},"axis":{"values":[0,5],"tickCount":20,"format":"d"}},"shape":{"field":"g","type":"nominal","scale":{"domain":["Ctrl Ab","Ctrl Ab + CT","αPD-L1 + CT"],"range":["circle","square","triangle-up"]},"legend":null}}},
     {"mark":{"type":"errorbar","extent":"stdev","ticks":{"size":10},"color":"black","thickness":1.3},"encoding":{"y":{"field":"v","type":"quantitative","title":null}}},
     {"mark":{"type":"tick","color":"black","thickness":1.5,"size":26},"encoding":{"y":{"aggregate":"mean","field":"v","type":"quantitative","title":null}}},
     {"data":{"name":"e_sig"},"transform":[{"filter":"datum.gene==='IFNγ'"}],"mark":{"type":"rule","strokeDash":[1,1.5],"strokeWidth":1.2,"color":"black"},"encoding":{"x":{"field":"g1","type":"nominal","title":null},"x2":{"field":"g2"},"y":{"field":"y","type":"quantitative","title":null}}},
     {"data":{"name":"e_sig"},"transform":[{"filter":"datum.gene==='IFNγ'"}],"mark":{"type":"text","fontSize":10,"dy":3,"color":"black","fill":"black"},"encoding":{"x":{"field":"g1","type":"nominal","title":null,"bandPosition":1},"y":{"field":"ys","type":"quantitative","title":null},"text":{"field":"t"}}}
    ]},
   {"width":125,"height":67,"title":{"text":"iNOS","fontSize":9.5,"fontWeight":"normal","offset":-13},"data":{"name":"e_pts"},"transform":[{"filter":"datum.gene==='iNOS'"}],
    "encoding":{"x":{"field":"g","type":"nominal","title":null,"scale":{"domain":["Ctrl Ab","Ctrl Ab + CT","αPD-L1 + CT"],"paddingInner":0,"paddingOuter":0},"axis":{"labels":false}}},
    "layer":[
     {"mark":{"type":"point","filled":true,"size":20,"color":"black","opacity":1},"encoding":{"xOffset":{"field":"r","type":"ordinal","scale":{"paddingOuter":2}},"y":{"field":"v","type":"quantitative","title":null,"scale":{"domain":[0,6],"nice":false},"axis":{"values":[0,2,4,6],"tickCount":20,"format":"d"}},"shape":{"field":"g","type":"nominal","scale":{"domain":["Ctrl Ab","Ctrl Ab + CT","αPD-L1 + CT"],"range":["circle","circle","circle"]},"legend":null}}},
     {"mark":{"type":"errorbar","extent":"stdev","ticks":{"size":10},"color":"black","thickness":1.3},"encoding":{"y":{"field":"v","type":"quantitative","title":null}}},
     {"mark":{"type":"tick","color":"black","thickness":1.5,"size":26},"encoding":{"y":{"aggregate":"mean","field":"v","type":"quantitative","title":null}}},
     {"data":{"name":"e_sig"},"transform":[{"filter":"datum.gene==='iNOS'"}],"mark":{"type":"rule","strokeDash":[1,1.5],"strokeWidth":1.2,"color":"black"},"encoding":{"x":{"field":"g1","type":"nominal","title":null},"x2":{"field":"g2"},"y":{"field":"y","type":"quantitative","title":null}}},
     {"data":{"name":"e_sig"},"transform":[{"filter":"datum.gene==='iNOS'"}],"mark":{"type":"text","fontSize":10,"dy":3,"color":"black","fill":"black"},"encoding":{"x":{"field":"g1","type":"nominal","title":null,"bandPosition":1},"y":{"field":"ys","type":"quantitative","title":null},"text":{"field":"t"}}}
    ]},
   {"width":125,"height":67,"title":{"text":"CXCL10","fontSize":9.5,"fontWeight":"normal","offset":-13},"data":{"name":"e_pts"},"transform":[{"filter":"datum.gene==='CXCL10'"}],
    "encoding":{"x":{"field":"g","type":"nominal","title":null,"scale":{"domain":["Ctrl Ab","Ctrl Ab + CT","αPD-L1 + CT"],"paddingInner":0,"paddingOuter":0},"axis":{"labels":false}}},
    "layer":[
     {"mark":{"type":"point","filled":true,"size":20,"color":"black","opacity":1},"encoding":{"xOffset":{"field":"r","type":"ordinal","scale":{"paddingOuter":2}},"y":{"field":"v","type":"quantitative","title":"Fold change","scale":{"domain":[0,19],"nice":false},"axis":{"values":[0,5,10,15],"tickCount":20,"format":"d"}},"shape":{"field":"g","type":"nominal","scale":{"domain":["Ctrl Ab","Ctrl Ab + CT","αPD-L1 + CT"],"range":["circle","square","triangle-up"]},"legend":null}}},
     {"mark":{"type":"errorbar","extent":"stdev","ticks":{"size":10},"color":"black","thickness":1.3},"encoding":{"y":{"field":"v","type":"quantitative","title":"Fold change"}}},
     {"mark":{"type":"tick","color":"black","thickness":1.5,"size":26},"encoding":{"y":{"aggregate":"mean","field":"v","type":"quantitative","title":"Fold change"}}},
     {"data":{"name":"e_sig"},"transform":[{"filter":"datum.gene==='CXCL10'"}],"mark":{"type":"rule","strokeDash":[1,1.5],"strokeWidth":1.2,"color":"black"},"encoding":{"x":{"field":"g1","type":"nominal","title":null},"x2":{"field":"g2"},"y":{"field":"y","type":"quantitative","title":"Fold change"}}},
     {"data":{"name":"e_sig"},"transform":[{"filter":"datum.gene==='CXCL10'"}],"mark":{"type":"text","fontSize":10,"dy":3,"color":"black","fill":"black"},"encoding":{"x":{"field":"g1","type":"nominal","title":null,"bandPosition":1},"y":{"field":"ys","type":"quantitative","title":"Fold change"},"text":{"field":"t"}}}
    ]},
   {"width":125,"height":67,"title":{"text":"perforin","fontSize":9.5,"fontWeight":"normal","offset":-13},"data":{"name":"e_pts"},"transform":[{"filter":"datum.gene==='perforin'"}],
    "encoding":{"x":{"field":"g","type":"nominal","title":null,"scale":{"domain":["Ctrl Ab","Ctrl Ab + CT","αPD-L1 + CT"],"paddingInner":0,"paddingOuter":0},"axis":{"labels":false}}},
    "layer":[
     {"mark":{"type":"point","filled":true,"size":20,"color":"black","opacity":1},"encoding":{"xOffset":{"field":"r","type":"ordinal","scale":{"paddingOuter":2}},"y":{"field":"v","type":"quantitative","title":null,"scale":{"domain":[0,8],"nice":false},"axis":{"values":[0,5],"tickCount":20,"format":"d"}},"shape":{"field":"g","type":"nominal","scale":{"domain":["Ctrl Ab","Ctrl Ab + CT","αPD-L1 + CT"],"range":["circle","square","triangle-up"]},"legend":null}}},
     {"mark":{"type":"errorbar","extent":"stdev","ticks":{"size":10},"color":"black","thickness":1.3},"encoding":{"y":{"field":"v","type":"quantitative","title":null}}},
     {"mark":{"type":"tick","color":"black","thickness":1.5,"size":26},"encoding":{"y":{"aggregate":"mean","field":"v","type":"quantitative","title":null}}},
     {"data":{"name":"e_sig"},"transform":[{"filter":"datum.gene==='perforin'"}],"mark":{"type":"rule","strokeDash":[1,1.5],"strokeWidth":1.2,"color":"black"},"encoding":{"x":{"field":"g1","type":"nominal","title":null},"x2":{"field":"g2"},"y":{"field":"y","type":"quantitative","title":null}}},
     {"data":{"name":"e_sig"},"transform":[{"filter":"datum.gene==='perforin'"}],"mark":{"type":"text","fontSize":10,"dy":3,"color":"black","fill":"black"},"encoding":{"x":{"field":"g1","type":"nominal","title":null,"bandPosition":1},"y":{"field":"ys","type":"quantitative","title":null},"text":{"field":"t"}}}
    ]},
   {"width":125,"height":67,"title":{"text":"IFNα","fontSize":9.5,"fontWeight":"normal","offset":-13},"data":{"name":"e_pts"},"transform":[{"filter":"datum.gene==='IFNα'"}],
    "encoding":{"x":{"field":"g","type":"nominal","title":null,"scale":{"domain":["Ctrl Ab","Ctrl Ab + CT","αPD-L1 + CT"],"paddingInner":0,"paddingOuter":0},"axis":{"labels":false}}},
    "layer":[
     {"mark":{"type":"point","filled":true,"size":20,"color":"black","opacity":1},"encoding":{"xOffset":{"field":"r","type":"ordinal","scale":{"paddingOuter":2}},"y":{"field":"v","type":"quantitative","title":null,"scale":{"domain":[0,5],"nice":false},"axis":{"values":[0,2,4],"tickCount":20,"format":"d"}},"shape":{"field":"g","type":"nominal","scale":{"domain":["Ctrl Ab","Ctrl Ab + CT","αPD-L1 + CT"],"range":["circle","square","triangle-up"]},"legend":null}}},
     {"mark":{"type":"errorbar","extent":"stdev","ticks":{"size":10},"color":"black","thickness":1.3},"encoding":{"y":{"field":"v","type":"quantitative","title":null}}},
     {"mark":{"type":"tick","color":"black","thickness":1.5,"size":26},"encoding":{"y":{"aggregate":"mean","field":"v","type":"quantitative","title":null}}},
     {"data":{"name":"e_sig"},"transform":[{"filter":"datum.gene==='IFNα'"}],"mark":{"type":"rule","strokeDash":[1,1.5],"strokeWidth":1.2,"color":"black"},"encoding":{"x":{"field":"g1","type":"nominal","title":null},"x2":{"field":"g2"},"y":{"field":"y","type":"quantitative","title":null}}},
     {"data":{"name":"e_sig"},"transform":[{"filter":"datum.gene==='IFNα'"}],"mark":{"type":"text","fontSize":10,"dy":3,"color":"black","fill":"black"},"encoding":{"x":{"field":"g1","type":"nominal","title":null,"bandPosition":1},"y":{"field":"ys","type":"quantitative","title":null},"text":{"field":"t"}}}
    ]},
   {"width":125,"height":67,"title":{"text":"CXCL11","fontSize":9.5,"fontWeight":"normal","offset":-13},"data":{"name":"e_pts"},"transform":[{"filter":"datum.gene==='CXCL11'"}],
    "encoding":{"x":{"field":"g","type":"nominal","title":null,"scale":{"domain":["Ctrl Ab","Ctrl Ab + CT","αPD-L1 + CT"],"paddingInner":0,"paddingOuter":0},"axis":{"labelExpr":"split(replace(datum.label,' + ','|+ '),'|')"}}},
    "layer":[
     {"mark":{"type":"point","filled":true,"size":20,"color":"black","opacity":1},"encoding":{"xOffset":{"field":"r","type":"ordinal","scale":{"paddingOuter":2}},"y":{"field":"v","type":"quantitative","title":null,"scale":{"domain":[0,12],"nice":false},"axis":{"values":[0,5,10],"tickCount":20,"format":"d"}},"shape":{"field":"g","type":"nominal","scale":{"domain":["Ctrl Ab","Ctrl Ab + CT","αPD-L1 + CT"],"range":["circle","square","triangle-up"]},"legend":null}}},
     {"mark":{"type":"errorbar","extent":"stdev","ticks":{"size":10},"color":"black","thickness":1.3},"encoding":{"y":{"field":"v","type":"quantitative","title":null}}},
     {"mark":{"type":"tick","color":"black","thickness":1.5,"size":26},"encoding":{"y":{"aggregate":"mean","field":"v","type":"quantitative","title":null}}},
     {"data":{"name":"e_sig"},"transform":[{"filter":"datum.gene==='CXCL11'"}],"mark":{"type":"rule","strokeDash":[1,1.5],"strokeWidth":1.2,"color":"black"},"encoding":{"x":{"field":"g1","type":"nominal","title":null},"x2":{"field":"g2"},"y":{"field":"y","type":"quantitative","title":null}}},
     {"data":{"name":"e_sig"},"transform":[{"filter":"datum.gene==='CXCL11'"}],"mark":{"type":"text","fontSize":10,"dy":3,"color":"black","fill":"black"},"encoding":{"x":{"field":"g1","type":"nominal","title":null,"bandPosition":1},"y":{"field":"ys","type":"quantitative","title":null},"text":{"field":"t"}}}
    ]},
   {"width":125,"height":67,"title":{"text":"granzyme B","fontSize":9.5,"fontWeight":"normal","offset":-13},"data":{"name":"e_pts"},"transform":[{"filter":"datum.gene==='granzyme B'"}],
    "encoding":{"x":{"field":"g","type":"nominal","title":null,"scale":{"domain":["Ctrl Ab","Ctrl Ab + CT","αPD-L1 + CT"],"paddingInner":0,"paddingOuter":0},"axis":{"labelExpr":"split(replace(datum.label,' + ','|+ '),'|')"}}},
    "layer":[
     {"mark":{"type":"point","filled":true,"size":20,"color":"black","opacity":1},"encoding":{"xOffset":{"field":"r","type":"ordinal","scale":{"paddingOuter":2}},"y":{"field":"v","type":"quantitative","title":null,"scale":{"domain":[0,12],"nice":false},"axis":{"values":[0,5,10],"tickCount":20,"format":"d"}},"shape":{"field":"g","type":"nominal","scale":{"domain":["Ctrl Ab","Ctrl Ab + CT","αPD-L1 + CT"],"range":["circle","square","triangle-up"]},"legend":null}}},
     {"mark":{"type":"errorbar","extent":"stdev","ticks":{"size":10},"color":"black","thickness":1.3},"encoding":{"y":{"field":"v","type":"quantitative","title":null}}},
     {"mark":{"type":"tick","color":"black","thickness":1.5,"size":26},"encoding":{"y":{"aggregate":"mean","field":"v","type":"quantitative","title":null}}},
     {"data":{"name":"e_sig"},"transform":[{"filter":"datum.gene==='granzyme B'"}],"mark":{"type":"rule","strokeDash":[1,1.5],"strokeWidth":1.2,"color":"black"},"encoding":{"x":{"field":"g1","type":"nominal","title":null},"x2":{"field":"g2"},"y":{"field":"y","type":"quantitative","title":null}}},
     {"data":{"name":"e_sig"},"transform":[{"filter":"datum.gene==='granzyme B'"}],"mark":{"type":"text","fontSize":10,"dy":3,"color":"black","fill":"black"},"encoding":{"x":{"field":"g1","type":"nominal","title":null,"bandPosition":1},"y":{"field":"ys","type":"quantitative","title":null},"text":{"field":"t"}}}
    ]},
   {"width":125,"height":67,"title":{"text":"IFNβ","fontSize":9.5,"fontWeight":"normal","offset":-13},"data":{"name":"e_pts"},"transform":[{"filter":"datum.gene==='IFNβ'"}],
    "encoding":{"x":{"field":"g","type":"nominal","title":null,"scale":{"domain":["Ctrl Ab","Ctrl Ab + CT","αPD-L1 + CT"],"paddingInner":0,"paddingOuter":0},"axis":{"labelExpr":"split(replace(datum.label,' + ','|+ '),'|')"}}},
    "layer":[
     {"mark":{"type":"point","filled":true,"size":20,"color":"black","opacity":1},"encoding":{"xOffset":{"field":"r","type":"ordinal","scale":{"paddingOuter":2}},"y":{"field":"v","type":"quantitative","title":null,"scale":{"domain":[0,8],"nice":false},"axis":{"values":[0,5],"tickCount":20,"format":"d"}},"shape":{"field":"g","type":"nominal","scale":{"domain":["Ctrl Ab","Ctrl Ab + CT","αPD-L1 + CT"],"range":["circle","square","triangle-up"]},"legend":null}}},
     {"mark":{"type":"errorbar","extent":"stdev","ticks":{"size":10},"color":"black","thickness":1.3},"encoding":{"y":{"field":"v","type":"quantitative","title":null}}},
     {"mark":{"type":"tick","color":"black","thickness":1.5,"size":26},"encoding":{"y":{"aggregate":"mean","field":"v","type":"quantitative","title":null}}},
     {"data":{"name":"e_sig"},"transform":[{"filter":"datum.gene==='IFNβ'"}],"mark":{"type":"rule","strokeDash":[1,1.5],"strokeWidth":1.2,"color":"black"},"encoding":{"x":{"field":"g1","type":"nominal","title":null},"x2":{"field":"g2"},"y":{"field":"y","type":"quantitative","title":null}}},
     {"data":{"name":"e_sig"},"transform":[{"filter":"datum.gene==='IFNβ'"}],"mark":{"type":"text","fontSize":10,"dy":3,"color":"black","fill":"black"},"encoding":{"x":{"field":"g1","type":"nominal","title":null,"bandPosition":1},"y":{"field":"ys","type":"quantitative","title":null},"text":{"field":"t"}}}
    ]}
  ]},
 {"title":{"text":"f","anchor":"start","frame":"bounds","fontSize":15,"fontWeight":"bold","dx":-17,"offset":-22},
  "resolve":{"scale":{"shape":"independent","fill":"independent","xOffset":"independent"},"legend":{"shape":"independent","fill":"independent"}},
  "vconcat":[{
  "title":{"text":"\u00a0","fontSize":10,"offset":0},
  "width":168,"height":202,
  "data":{"name":"f_data"},
  "encoding":{"x":{"field":"d","type":"quantitative","title":"Days after Hepa1-6 innoculation","scale":{"domain":[0,20],"nice":false},"axis":{"values":[0,5,10,15,20],"tickCount":20,"format":"d"}}},
  "layer":[
   {"mark":{"type":"rule","color":"black","strokeWidth":1.5},"encoding":{"y":{"field":"lo","type":"quantitative","title":"Tumor size (mm³)","scale":{"domain":[0,1500],"nice":false},"axis":{"values":[0,500,1000,1500],"tickCount":20,"format":"d"}},"y2":{"field":"hi"}}},
   {"mark":{"type":"tick","orient":"horizontal","color":"black","thickness":1.5,"size":9},"encoding":{"y":{"field":"hi","type":"quantitative","title":"Tumor size (mm³)"}}},
   {"mark":{"type":"tick","orient":"horizontal","color":"black","thickness":1.5,"size":9},"encoding":{"y":{"field":"lo","type":"quantitative","title":"Tumor size (mm³)"}}},
   {"mark":{"type":"line","color":"black","strokeWidth":1.5},"encoding":{"y":{"field":"m","type":"quantitative","title":"Tumor size (mm³)"},"detail":{"field":"g"}}},
   {"mark":{"type":"point","size":55,"strokeWidth":1.5,"opacity":1,"stroke":"black"},"encoding":{"y":{"field":"m","type":"quantitative","title":"Tumor size (mm³)"},
     "shape":{"field":"g","type":"nominal","scale":{"domain":["Control","CT+αPD-L1","CT+αPD-L1+αCD4","CT+αPD-L1+αCD8","CT+αPD-L1+αNK1.1"],"range":["circle","circle","triangle-up","triangle-up","diamond"]},"legend":{"title":null,"orient":"top-left","offset":8,"labelExpr":"split(replace(datum.label,'L1+','L1|+'),'|')","symbolStrokeColor":"black","symbolStrokeWidth":1.5,"symbolSize":60,"rowPadding":2,"labelFontSize":10,"encode":{"symbols":{"update":{"stroke":{"value":"black"},"strokeWidth":{"value":1.5}}}}}},
     "fill":{"field":"g","type":"nominal","scale":{"domain":["Control","CT+αPD-L1","CT+αPD-L1+αCD4","CT+αPD-L1+αCD8","CT+αPD-L1+αNK1.1"],"range":["black","white","black","white","black"]},"legend":{"title":null,"orient":"top-left","offset":8,"labelExpr":"split(replace(datum.label,'L1+','L1|+'),'|')","symbolStrokeColor":"black","symbolStrokeWidth":1.5,"symbolSize":60,"rowPadding":2,"labelFontSize":10,"encode":{"symbols":{"update":{"stroke":{"value":"black"},"strokeWidth":{"value":1.5}}}}}}}}
  ]}]}
]}
]
}
